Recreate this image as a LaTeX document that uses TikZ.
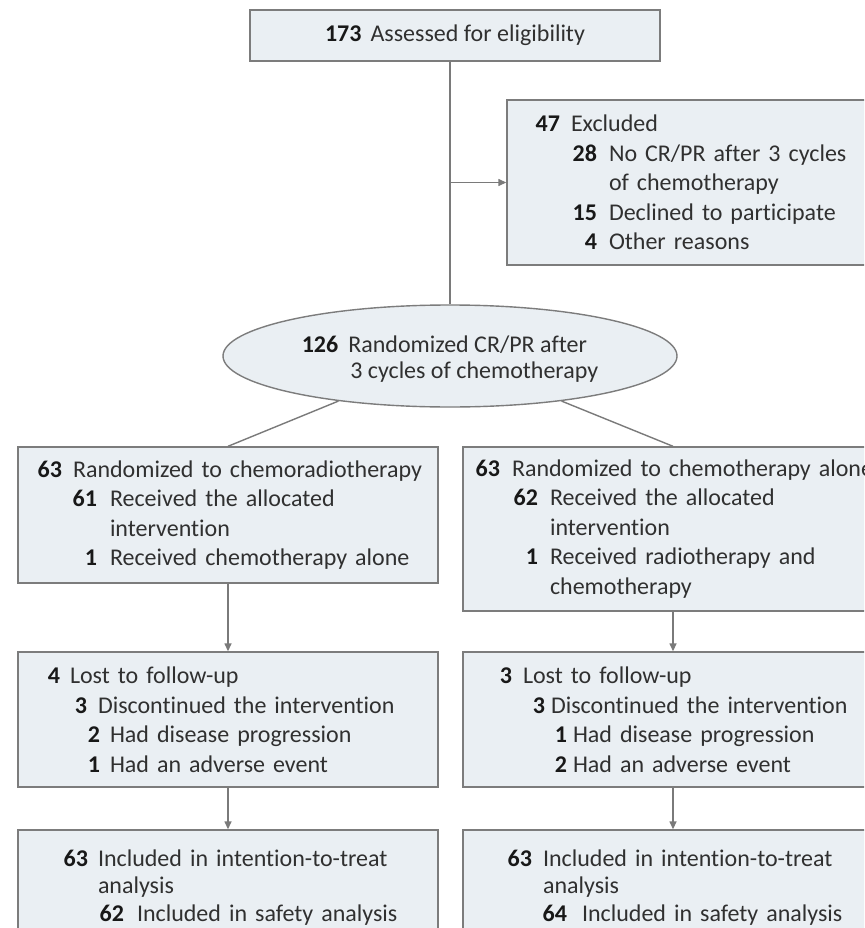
\documentclass[tikz,border=0pt]{standalone}
\usepackage{fontspec}
\setmainfont{Carlito}[Ligatures={NoCommon}]
\usetikzlibrary{shapes.geometric,arrows.meta}

\definecolor{boxfill}{HTML}{EAEFF3}
\definecolor{boxline}{HTML}{7C7C7C}
\definecolor{txt}{HTML}{303030}
\definecolor{numc}{HTML}{181818}
\definecolor{wire}{HTML}{7A7A7A}

% numbered line: right edge of the number, start of the text (pt from box edge)
\newcommand\nl[4]{\makebox[#1pt][r]{\textbf{\color{numc}#3}}\hspace*{\dimexpr #2pt - #1pt\relax}#4}
% continuation line starting at the given offset
\newcommand\cl[2]{\hspace*{#1pt}#2}

\begin{document}
\begin{tikzpicture}[x=1pt,y=-1pt,
  font=\fontsize{24}{29.5}\selectfont,
  flowbox/.style={draw=boxline,fill=boxfill,line width=1.4pt,rectangle,
    inner xsep=0pt,inner ysep=0pt,align=left,text=txt},
  oval/.style={draw=boxline,fill=boxfill,line width=1.4pt,ellipse,
    inner sep=0pt,align=left,text=txt},
  link/.style={draw=wire,line width=1.4pt},
  arrowlink/.style={link,-{Triangle[length=8pt,width=7pt]}}
]
\useasboundingbox (0,0) rectangle (864,928);
\clip (0,0) rectangle (864,928);
\fill[white] (0,0) rectangle (864,928);

% screening
\node[flowbox,minimum width=410pt,minimum height=51pt,align=center] (top) at (455,35.5)
  {\textbf{\color{numc}173}\hspace{9pt}Assessed for eligibility};

\node[flowbox,text width=373pt,minimum height=165pt] (excl) at (693.5,182.5)
  {\nl{53}{64}{47}{Excluded}\\
   \nl{90}{102}{28}{No CR/PR after 3 cycles}\\
   \cl{102}{of chemotherapy}\\
   \nl{90}{102}{15}{Declined to participate}\\
   \nl{90}{102}{4}{Other reasons}};

% randomization
\node[oval,minimum width=454pt,minimum height=102pt] (ell) at (450,356)
  {\raisebox{-10pt}[0pt][0pt]{\begin{tabular}{@{}l@{}}
   \textbf{\color{numc}126}\hspace{10pt}Randomized CR/PR after\\[-4pt]
   \hphantom{\textbf{126}}\hspace{12pt}3 cycles of chemotherapy
   \end{tabular}}};

% allocation
\node[flowbox,text width=420pt,minimum height=136pt] (lb2) at (228,515)
  {\nl{44}{55}{63}{Randomized to chemoradiotherapy}\\
   \nl{79}{92}{61}{Received the allocated}\\
   \cl{92}{intervention}\\
   \nl{79}{92}{1}{Received chemotherapy alone}};

\node[flowbox,text width=420pt,minimum height=164pt] (rb2) at (673,529)
  {\nl{37}{49}{63}{Randomized to chemotherapy alone}\\
   \nl{75}{87}{62}{Received the allocated}\\
   \cl{87}{intervention}\\
   \nl{75}{87}{1}{Received radiotherapy and}\\
   \cl{87}{chemotherapy}};

% follow-up
\node[flowbox,text width=420pt,minimum height=135pt] (lb3) at (228,719.5)
  {\nl{42}{52}{4}{Lost to follow-up}\\
   \nl{69}{80}{3}{Discontinued the intervention}\\
   \nl{82}{92}{2}{Had disease progression}\\
   \nl{82}{92}{1}{Had an adverse event}};

\node[flowbox,text width=420pt,minimum height=135pt] (rb3) at (673,719.5)
  {\nl{49}{60}{3}{Lost to follow-up}\\
   \nl{82}{88}{3}{Discontinued the intervention}\\
   \nl{104}{110}{1}{Had disease progression}\\
   \nl{104}{110}{2}{Had an adverse event}};

% analysis
\node[flowbox,text width=420pt,minimum height=115pt,
  font=\fontsize{24}{27.5}\selectfont] (lb4) at (228,887.5)
  {\nl{70}{80}{63}{Included in intention-to-treat}\\
   \cl{80}{analysis}\\
   \nl{106}{119}{62}{Included in safety analysis}};

\node[flowbox,text width=420pt,minimum height=115pt,
  font=\fontsize{24}{27.5}\selectfont] (rb4) at (673,887.5)
  {\nl{69}{80}{63}{Included in intention-to-treat}\\
   \cl{80}{analysis}\\
   \nl{104}{119}{64}{Included in safety analysis}};

% connectors
\draw[link] (ell.north |- top.south) -- (ell.north);
\draw[arrowlink] (ell.north |- excl.west) -- (excl.west);
\draw[link] (ell.202) -- (lb2.north);
\draw[link] (ell.338) -- (rb2.north);
\draw[arrowlink] (lb2.south) -- (lb3.north);
\draw[arrowlink] (rb2.south) -- (rb3.north);
\draw[arrowlink] (lb3.south) -- (lb4.north);
\draw[arrowlink] (rb3.south) -- (rb4.north);
\end{tikzpicture}
\end{document}
